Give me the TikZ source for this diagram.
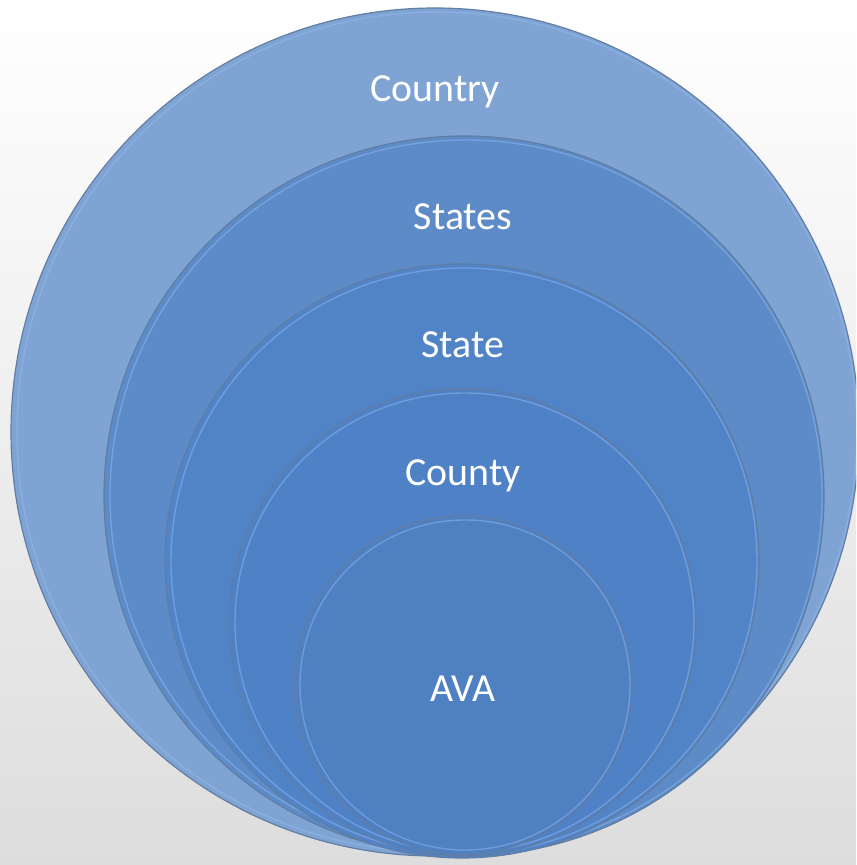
\documentclass[tikz,border=0pt]{standalone}
\usepackage{fontspec}
\setmainfont{Carlito}
\usetikzlibrary{shapes}
\definecolor{bgtop}{RGB}{255,255,255}
\definecolor{bgbot}{RGB}{221,221,221}
\definecolor{cCountry}{RGB}{127,164,212}
\definecolor{cStates}{RGB}{92,139,199}
\definecolor{cState}{RGB}{81,131,199}
\definecolor{cCounty}{RGB}{79,129,198}
\definecolor{cAVA}{RGB}{78,128,194}
\definecolor{edge}{RGB}{98,125,162}
\definecolor{rimlight}{RGB}{150,190,245}
\tikzstyle{ring}=[draw=edge,line width=1pt]
\tikzstyle{rim}=[draw=rimlight,line width=1.2pt,opacity=.45]
\tikzstyle{lbl}=[text=white,font=\fontsize{34}{40}\selectfont,inner sep=0pt]

\begin{document}
\begin{tikzpicture}[x=.03cm,y=.03cm]
\useasboundingbox (0,0) rectangle (856,865);
\shade[top color=bgtop,bottom color=bgbot] (0,0) rectangle (856,865);
\clip (0,0) rectangle (856,865);
% circles, outer to inner
\draw[ring,fill=cCountry] (435,433) circle (424);
\draw[rim] (437,433) circle (420);
\draw[ring,fill=cStates] (464,369) circle (360);
\draw[rim] (466,369) circle (356);
\draw[ring,fill=cState] (462,304) circle (297);
\draw[rim] (464,304) circle (293);
\draw[ring,fill=cCounty] (462.5,242.5) circle (233.5);
\draw[rim] (464.5,242.5) circle (229.5);
\draw[ring,fill=cAVA] (463,180) circle (169);
\draw[rim] (465,180) circle (165);
% labels
\node[lbl] (country) at (435,773) {Country};
\node[lbl] (states) at (463,648) {States};
\node[lbl] (state) at (463,520) {State};
\node[lbl] (county) at (463,389) {County};
\node[lbl] (ava) at (463,176) {AVA};
\end{tikzpicture}
\end{document}
